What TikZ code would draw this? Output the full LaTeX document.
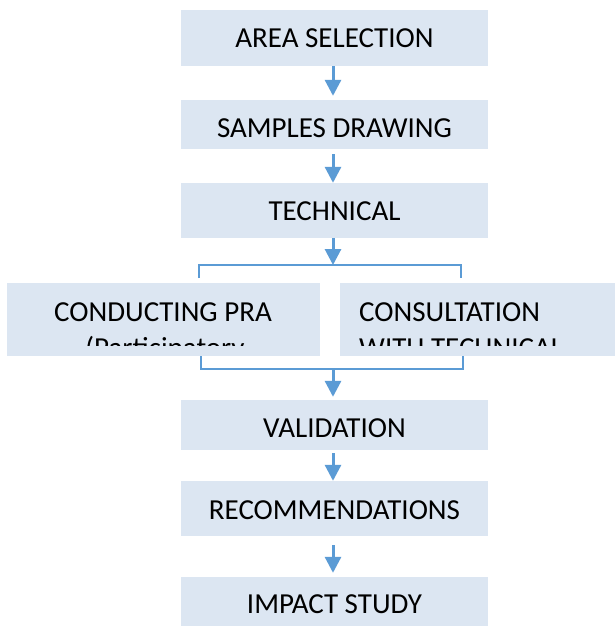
\documentclass[tikz,border=0pt]{standalone}
\usepackage{fontspec}
\setmainfont{Carlito}
\usetikzlibrary{arrows.meta}
\definecolor{boxfill}{HTML}{DCE6F2}
\definecolor{arrowblue}{HTML}{5B9BD5}
\begin{document}
\begin{tikzpicture}[x=1pt,y=-1pt,
  txt/.style={font=\fontsize{29}{35}\selectfont, text=black, inner sep=0pt},
  box/.style={fill=boxfill, draw=none, inner sep=0pt, font=\fontsize{29}{35}\selectfont, text depth=0pt},
  lower/.style={text height=18.7pt+2*#1},
  arr/.style={draw=arrowblue, line width=3pt, -{Triangle[length=16pt,width=16pt]}},
  brk/.style={draw=arrowblue, line width=1.8pt}]
\useasboundingbox[fill=white] (0,0) rectangle (615,626);
% boxes
\node[box, lower=0.3pt, minimum width=307pt, minimum height=56pt] (b1) at (334.5,38) {AREA SELECTION};
\node[box, lower=4pt, minimum width=307pt, minimum height=49pt] (b2) at (334.5,124.5) {SAMPLES DRAWING};
\node[box, lower=0.3pt, minimum width=307pt, minimum height=55pt] (b3) at (334.5,210.5) {TECHNICAL};
% bracket lines (drawn before side boxes so the boxes cover them)
\coordinate (tl) at (199,265);
\coordinate (tr) at (461,265);
\coordinate (tm) at (333,265);
\coordinate (bl) at (201,369);
\coordinate (br) at (463,369);
\coordinate (bm) at (333,369);
\draw[brk] ([yshift=-13pt]tl) -- (tl) -- (tr) -- ([yshift=-13pt]tr);
\draw[brk] ([yshift=22pt]bl) -- (bl) -- (br) -- ([yshift=22pt]br);
\node[box, minimum width=313pt, minimum height=73pt] (b4l) at (163.5,319.5) {};
\node[box, minimum width=275pt, minimum height=73pt] (b4r) at (477.5,319.5) {};
\begin{scope}
\clip (b4l.north west) rectangle ([yshift=11pt]b4l.south east);
\node[txt, anchor=base] (t4l1) at (163,321) {CONDUCTING PRA};
\node[txt, anchor=base] (t4l2) at (165,357) {(Participatory};
\end{scope}
\begin{scope}
\clip (b4r.north west) rectangle ([yshift=11pt]b4r.south east);
\node[txt, anchor=base west] (t4r1) at (359,321) {CONSULTATION};
\node[txt, anchor=base west] (t4r2) at (359,357) {WITH TECHNICAL};
\end{scope}
\node[box, lower=3.5pt, minimum width=307pt, minimum height=50pt] (b5) at (334.5,425) {VALIDATION};
\node[box, lower=2pt, minimum width=307pt, minimum height=55pt] (b6) at (334.5,508.5) {RECOMMENDATIONS};
\node[box, lower=3pt, minimum width=307pt, minimum height=49pt] (b7) at (334.5,601.5) {IMPACT STUDY};
% arrows
\draw[arr] ([xshift=-1.5pt]b1.south) -- ([xshift=-1.5pt,yshift=4pt]b2.north);
\draw[arr] ([xshift=-1.5pt,yshift=-5pt]b2.south) -- ([xshift=-1.5pt]b3.north);
\draw[arr] ([xshift=-1.5pt]b3.south) -- (tm);
\draw[arr] (bm) -- ([xshift=-1.5pt,yshift=3pt]b5.north);
\draw[arr] ([xshift=-1.5pt,yshift=-3pt]b5.south) -- ([xshift=-1.5pt]b6.north);
\draw[arr] ([xshift=-1.5pt,yshift=-9pt]b6.south) -- ([xshift=-1.5pt,yshift=4pt]b7.north);
\end{tikzpicture}
\end{document}
